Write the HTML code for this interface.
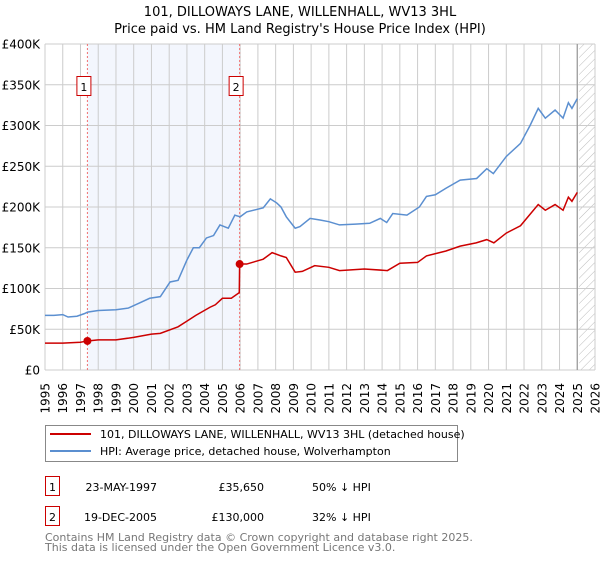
<!DOCTYPE html>
<html><head><meta charset="utf-8"><style>
body{margin:0;background:#fff;font-family:"DejaVu Sans","Liberation Sans",sans-serif}
svg text{font-family:"DejaVu Sans","Liberation Sans",sans-serif}
</style></head><body>
<svg id="c" width="600" height="560" xmlns="http://www.w3.org/2000/svg">
<defs><pattern id="hatch" width="6" height="6" patternUnits="userSpaceOnUse" patternTransform="rotate(45)"><line x1="0" y1="0" x2="0" y2="6" stroke="#bbb" stroke-width="1"/></pattern></defs>
<text x="300" y="16" text-anchor="middle" font-size="13">101, DILLOWAYS LANE, WILLENHALL, WV13 3HL</text>
<text x="300" y="33" text-anchor="middle" font-size="13">Price paid vs. HM Land Registry's House Price Index (HPI)</text>
<g id="plot"></g>
<g>
<rect x="45.5" y="425.5" width="412" height="36" fill="#fff" stroke="#888"/>
<line x1="50" y1="434" x2="91" y2="434" stroke="#cc0000" stroke-width="2"/>
<text x="100" y="438" font-size="11">101, DILLOWAYS LANE, WILLENHALL, WV13 3HL (detached house)</text>
<line x1="50" y1="451" x2="91" y2="451" stroke="#5b8fd0" stroke-width="2"/>
<text x="100" y="455" font-size="11">HPI: Average price, detached house, Wolverhampton</text>
</g>
<g>
<rect x="45.5" y="476.5" width="14" height="19" fill="#fff" stroke="#cc0000"/>
<text x="52.5" y="491" text-anchor="middle" font-size="11">1</text>
<text x="157" y="491" text-anchor="end" font-size="11">23-MAY-1997</text>
<text x="264" y="491" text-anchor="end" font-size="11">£35,650</text>
<text x="312" y="491" font-size="11">50% ↓ HPI</text>
<rect x="45.5" y="506.5" width="14" height="19" fill="#fff" stroke="#cc0000"/>
<text x="52.5" y="521" text-anchor="middle" font-size="11">2</text>
<text x="157" y="521" text-anchor="end" font-size="11">19-DEC-2005</text>
<text x="264" y="521" text-anchor="end" font-size="11">£130,000</text>
<text x="312" y="521" font-size="11">32% ↓ HPI</text>
</g>
<text x="45" y="541" font-size="11" fill="#777">Contains HM Land Registry data © Crown copyright and database right 2025.</text>
<text x="45" y="551" font-size="11" fill="#777">This data is licensed under the Open Government Licence v3.0.</text>
</svg>
<script>
const yTicks=[0,50,100,150,200,250,300,350,400];
const yTickLabels=["£0","£50K","£100K","£150K","£200K","£250K","£300K","£350K","£400K"];
const years=[1995,1996,1997,1998,1999,2000,2001,2002,2003,2004,2005,2006,2007,2008,2009,2010,2011,2012,2013,2014,2015,2016,2017,2018,2019,2020,2021,2022,2023,2024,2025,2026];
const hpiT=[1995,1995.5,1996,1996.3,1996.8,1997.2,1997.4,1998,1999,1999.7,2000.3,2000.9,2001.5,2002.05,2002.5,2003,2003.36,2003.7,2004.1,2004.5,2004.86,2005.33,2005.7,2006.0,2006.37,2007.3,2007.7,2008.06,2008.3,2008.6,2009.1,2009.37,2009.94,2010.5,2011,2011.6,2012.5,2013.3,2013.9,2014.26,2014.6,2015.4,2016.1,2016.5,2017,2017.6,2018.4,2019.33,2019.9,2020.27,2021.0,2021.8,2022.34,2022.8,2023.2,2023.75,2024.2,2024.5,2024.7,2025.0];
const hpiV=[67,67,68,65,66,69,71,73,74,76,82,88,90,108,110,135,150,150,162,165,178,174,190,188,194,199,210,205,200,188,174,176,186,184,182,178,179,180,186,181,192,190,200,213,215,223,233,235,247,241,262,278,300,321,309,319,309,328,321,333];
const ppT=[1995,1996,1997,1997.39,1998,1999,2000,2001,2001.5,2002.5,2003,2003.5,2004.3,2004.6,2005,2005.5,2005.95,2005.97,2006.37,2007.3,2007.8,2008.3,2008.6,2009.1,2009.5,2010.2,2011,2011.6,2013,2014.3,2015,2016,2016.5,2017.6,2018.4,2019.3,2019.9,2020.3,2021,2021.8,2022.3,2022.8,2023.2,2023.75,2024.2,2024.5,2024.7,2025.0];
const ppV=[33,33,34,35.65,37,37,40,44,45,53,60,67,77,80,88,88,95,130,130,136,144,140,138,120,121,128,126,122,124,122,131,132,140,146,152,156,160,156,168,177,190,203,196,203,196,212,207,218];
const saleT=[1997.39,2005.97];
const saleV=[35.65,130];
const saleLabels=["1","2"];
const X0=45,X1=595,Y0=370,Y1=44;
const xs=t=>X0+(t-1995)*(X1-X0)/31;
const ys=v=>Y0-v*(Y0-Y1)/400;
const NS="http://www.w3.org/2000/svg";
const g=document.getElementById('plot');
function mk(tag,attrs,parent){const e=document.createElementNS(NS,tag);for(const k in attrs)e.setAttribute(k,attrs[k]);(parent||g).appendChild(e);return e;}
let r=mk('rect',{x:xs(saleT[0]),y:Y1,width:xs(saleT[1])-xs(saleT[0]),height:Y0-Y1,fill:'#f3f6fd'});


r=mk('rect',{x:xs(2025.1),y:Y1,width:X1-xs(2025.1),height:Y0-Y1,fill:'url(#hatch)'});


years.forEach(y=>{const l=mk('line',{x1:xs(y),x2:xs(y),y1:Y1,y2:Y0,stroke:'#ccc'});


const t=mk('text',{x:0,y:0,'font-size':12,'text-anchor':'end',transform:`translate(${xs(y)+4.5},383) rotate(-90)`});t.textContent=y;

});
yTicks.forEach((v,i)=>{const l=mk('line',{x1:X0,x2:X1,y1:ys(v),y2:ys(v),stroke:'#ccc'});


const t=mk('text',{x:40,y:ys(v)+4.5,'font-size':12,'text-anchor':'end'});t.textContent=yTickLabels[i];

});
let vl=mk('line',{x1:xs(2025.0),x2:xs(2025.0),y1:Y1,y2:Y0,stroke:'#999','stroke-width':1.2});


saleT.forEach((t,i)=>{const l=mk('line',{x1:xs(t),x2:xs(t),y1:Y1,y2:Y0,stroke:'#f07070','stroke-dasharray':'2,2'});


const b=mk('rect',{x:xs(t)-10.5,y:76.5,width:14,height:19,fill:'#fff',stroke:'#cc0000'});


const tx=mk('text',{x:xs(t)-3.5,y:91,'font-size':11,'text-anchor':'middle'});tx.textContent=saleLabels[i];

});
let p=mk('polyline',{points:hpiT.map((t,i)=>xs(t)+','+ys(hpiV[i])).join(' '),fill:'none',stroke:'#5b8fd0','stroke-width':1.5});


p=mk('polyline',{points:ppT.map((t,i)=>xs(t)+','+ys(ppV[i])).join(' '),fill:'none',stroke:'#cc0000','stroke-width':1.5});


saleT.forEach((t,i)=>{const c=mk('circle',{cx:xs(t),cy:ys(saleV[i]),r:4,fill:'#cc0000'});

});
</script>
</body></html>
